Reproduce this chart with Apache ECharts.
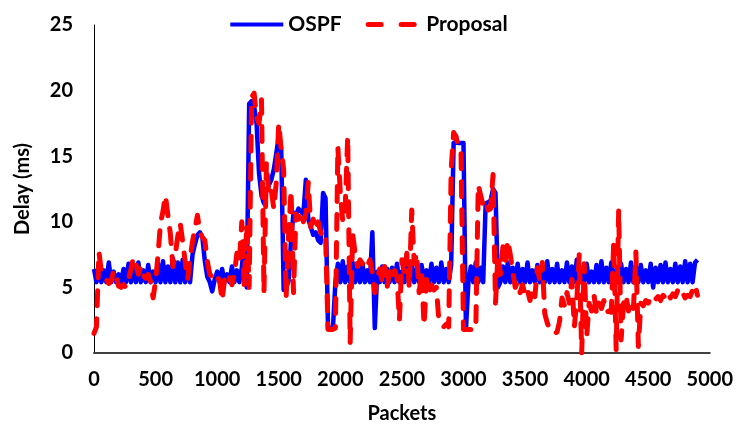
<!DOCTYPE html>
<html>
<head>
<meta charset="utf-8">
<script src="https://cdn.jsdelivr.net/npm/echarts@6/dist/echarts.min.js"></script>
<style>
  html, body { margin: 0; padding: 0; background: #fff; }
  #chart { width: 736px; height: 430px; }
</style>
</head>
<body>
<div id="chart"></div>
<script>
// Delay per packet, sampled every 20 packets (packet 0 .. 4900)
const packetStep = 20;
const seriesNames = ['OSPF', 'Proposal'];
const xTicks = { min: 0, max: 5000, interval: 500 };
const yTicks = { min: 0, max: 25, interval: 5 };

const ospfDelay = [
  6.4,5.4,6.6,5.4,6.3,5.4,6.9,5.4,6.2,5.4,
  6.0,5.4,6.4,5.4,6.8,5.4,6.5,5.4,6.9,5.4,
  6.3,5.4,6.7,5.4,6.2,5.4,6.8,5.4,7.0,5.4,
  6.6,5.4,7.2,5.4,6.9,5.4,7.1,5.4,6.8,5.4,
  7.5,8.3,9.0,9.2,8.8,7.0,5.8,5.4,4.7,5.6,
  6.2,5.4,6.4,5.4,6.0,5.4,6.6,5.4,6.3,5.4,
  6.5,8.5,5.0,19.0,19.2,18.8,17.5,13.7,12.0,11.4,
  12.4,12.8,13.2,14.0,15.2,16.5,15.6,4.8,5.0,5.5,
  8.6,10.7,10.5,11.0,10.8,10.6,13.2,10.2,9.6,9.0,
  9.2,8.6,8.4,12.2,11.8,1.9,1.9,1.9,5.4,6.8,
  5.4,7.0,5.4,6.6,5.4,6.9,5.4,6.4,5.4,6.8,
  5.4,6.3,5.4,9.2,1.9,6.2,5.4,6.6,5.4,6.4,
  5.4,6.5,5.4,6.8,5.4,6.2,5.4,6.6,5.4,6.9,
  5.4,6.4,5.4,6.7,5.4,6.3,5.4,6.8,5.4,6.5,
  5.4,6.9,5.4,6.4,5.4,6.7,16.0,16.1,16.0,16.0,
  16.0,1.8,5.4,6.6,5.4,6.9,5.4,6.5,5.4,11.4,
  11.5,11.6,12.5,12.2,5.0,5.4,6.6,5.4,6.9,5.4,
  6.5,5.4,6.8,5.4,6.4,5.4,6.9,5.4,6.3,5.4,
  6.7,5.4,6.5,5.4,7.0,5.4,6.4,5.4,6.8,5.4,
  6.3,5.4,6.9,5.4,6.6,5.4,7.1,5.4,6.4,5.4,
  6.8,5.4,6.2,5.4,6.7,5.4,7.0,5.4,6.5,5.4,
  6.9,5.4,6.3,5.4,6.8,5.4,6.4,5.4,6.9,5.4,
  6.6,5.4,6.7,5.4,6.3,5.4,6.8,5.0,6.5,5.4,
  6.7,5.4,6.9,5.4,6.4,5.4,6.8,5.4,6.6,5.4,
  7.0,5.4,6.8,5.4,6.9,7.1
];

const proposalDelay = [
  1.5,2.0,7.7,6.2,5.9,5.6,5.3,5.5,6.3,5.8,
  5.1,5.0,5.2,5.0,5.6,6.4,7.3,6.8,6.0,6.6,
  5.9,5.7,6.0,5.4,4.2,5.5,7.5,9.9,10.8,12.0,
  10.5,9.1,6.6,7.5,8.9,9.9,8.5,7.0,5.6,7.2,
  8.5,9.5,10.5,9.2,8.8,8.6,7.0,6.0,5.8,5.5,
  5.8,5.5,4.0,5.6,6.1,5.8,5.2,6.0,7.6,6.8,
  10.0,5.0,9.8,5.0,19.5,19.8,18.0,17.5,19.3,4.6,
  14.5,12.0,12.4,11.0,13.0,17.5,15.5,14.0,4.2,9.0,
  12.4,4.6,10.6,10.2,10.8,10.0,10.6,13.0,9.6,10.2,
  9.4,10.0,9.2,8.8,9.0,1.8,1.8,1.8,1.9,15.7,
  12.2,10.0,11.2,16.5,0.8,9.1,7.6,6.6,7.1,6.8,
  7.0,6.6,7.1,6.1,4.6,5.6,6.4,5.4,6.6,5.0,
  6.2,5.6,6.3,5.8,2.5,7.1,6.0,7.6,5.0,10.9,
  6.8,7.6,4.6,6.2,2.1,5.6,4.6,5.2,4.8,5.0,
  2.5,2.2,2.0,2.2,2.0,14.0,16.8,16.5,15.5,15.2,
  1.8,1.8,1.8,1.8,1.8,1.8,12.8,12.0,11.2,11.5,
  10.9,11.0,13.6,3.8,7.5,6.0,8.1,7.0,8.6,7.5,
  6.2,5.0,5.4,4.6,5.2,4.4,4.8,4.0,5.0,4.3,
  6.5,5.5,6.9,3.0,2.3,1.8,1.6,1.5,1.6,2.4,
  4.2,3.6,4.6,3.8,5.6,2.0,4.0,7.5,0.0,6.8,
  1.2,3.8,3.2,4.4,3.0,3.8,3.4,4.0,3.1,3.2,
  3.1,8.5,0.2,10.9,1.0,3.8,4.4,3.2,4.0,3.4,
  7.7,0.5,3.8,3.6,4.0,3.8,4.2,3.9,4.1,4.3,
  4.0,4.4,4.2,4.6,4.2,4.5,4.3,4.8,4.4,4.6,
  4.2,4.4,4.3,4.8,5.2,4.4
];

// pair each delay with its packet number
const withPackets = (arr) => arr.map((v, i) => [i * packetStep, v]);

const FONT = 'Lato';
const TEXT = { fontFamily: FONT, fontWeight: 'bold', fontSize: 20, color: '#000' };
const BLUE = '#0000ff';
const RED = '#ff0000';
const chart = echarts.init(document.getElementById('chart'), null, { renderer: 'canvas' });

chart.setOption({
  animation: false,
  backgroundColor: '#ffffff',
  textStyle: { fontFamily: FONT },
  legend: {
    top: 9,
    left: 'center',
    itemWidth: 53,
    itemHeight: 14,
    itemGap: 24,
    itemStyle: { opacity: 0 },
    textStyle: Object.assign({}, TEXT, { fontSize: 21 }),
    data: [
      { name: seriesNames[0], lineStyle: { width: 4, color: BLUE } },
      { name: seriesNames[1], lineStyle: { width: 5, color: RED, type: [13, 20], cap: 'round' } }
    ]
  },
  grid: { left: 94, right: 25, top: 25, bottom: 77, containLabel: false },
  xAxis: {
    type: 'value',
    min: xTicks.min, max: xTicks.max, interval: xTicks.interval,
    name: 'Packets',
    nameLocation: 'middle',
    nameGap: 51,
    nameTextStyle: Object.assign({}, TEXT),
    axisLine: { show: true, onZero: false, lineStyle: { color: '#404040', width: 2 } },
    axisTick: { show: false },
    splitLine: { show: false },
    axisLabel: Object.assign({ margin: 17, formatter: (v) => String(v) }, TEXT)
  },
  yAxis: {
    type: 'value',
    min: yTicks.min, max: yTicks.max, interval: yTicks.interval,
    name: 'Delay (ms)',
    nameLocation: 'middle',
    nameGap: 61,
    nameRotate: 90,
    nameTextStyle: Object.assign({}, TEXT),
    axisLine: { show: true, lineStyle: { color: '#000', width: 1 } },
    axisTick: { show: false },
    splitLine: { show: false },
    axisLabel: Object.assign({ margin: 21 }, TEXT)
  },
  series: [
    {
      name: seriesNames[0],
      type: 'line',
      symbol: 'none',
      data: withPackets(ospfDelay),
      lineStyle: { color: BLUE, width: 4.5, join: 'round' },
      itemStyle: { color: BLUE },
      z: 2
    },
    {
      name: seriesNames[1],
      type: 'line',
      symbol: 'none',
      data: withPackets(proposalDelay),
      lineStyle: { color: RED, width: 5, type: [15, 13], cap: 'round', join: 'round' },
      itemStyle: { color: RED },
      z: 3
    }
  ]
});
</script>
</body>
</html>
